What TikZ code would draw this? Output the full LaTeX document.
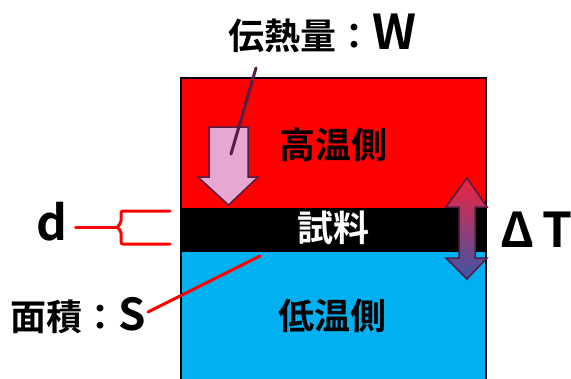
\documentclass[tikz,border=0pt]{standalone}
\usepackage{fontspec}
\setmainfont{Noto Sans CJK JP}[BoldFont={Noto Sans CJK JP Bold}]
\usetikzlibrary{calc}
\definecolor{hotred}{HTML}{FF0000}
\definecolor{coldblue}{HTML}{00B0F0}
\definecolor{arrowpink}{HTML}{E6A8D0}
\definecolor{darkplum}{HTML}{551C44}
\definecolor{gradtop}{HTML}{F0243E}
\definecolor{gradbot}{HTML}{3A56A8}
\tikzset{
  jplabel/.style={font=\bfseries\fontsize{36}{36}\selectfont, inner sep=0pt},
  latinbig/.style={font=\bfseries\fontsize{48}{48}\selectfont, inner sep=0pt},
  redline/.style={draw=red, line width=3pt, line cap=round, line join=round},
  plumline/.style={draw=darkplum, line width=3pt, line cap=round},
}
\begin{document}
\begin{tikzpicture}[x=1pt,y=-1pt]
\useasboundingbox (0,0) rectangle (571,378);
% layers
\fill[hotred] (181,78) rectangle (486,208);
\fill[black] (181,208) rectangle (486,252);
\fill[coldblue] (181,252) rectangle (486,380);
\draw[black, line width=1.5pt] (181,380) -- (181,78) -- (486,78) -- (486,380);
% region texts
\node[jplabel] (hot) at (333,145) {高温側};
\node[jplabel, text=white] (sample) at (333,228) {試料};
\node[jplabel] (cold) at (332,316) {低温側};
% heat flow arrow
\draw[darkplum, fill=arrowpink, line width=1.5pt, line join=miter]
  (209,127) -- (248,127) -- (248,177) -- (258,177) -- (228.5,205) -- (198,177) -- (209,177) -- cycle;
% heat label
\node[jplabel, anchor=base west] (heat) at (228,49) {伝熱量：\fontsize{48}{48}\selectfont W};
\coordinate (heatend) at (231,154);
\draw[plumline] (256,68) -- (heatend);
% delta T double arrow
\shade[top color=gradtop, bottom color=gradbot, draw=darkplum, line width=1.5pt, line join=miter]
  (467,178) -- (487,207) -- (475,207) -- (475,258) -- (487,258) -- (467,279)
  -- (446,258) -- (459,258) -- (459,207) -- (446,207) -- cycle;
\node[latinbig, anchor=base west] (dT) at (500,247) {Δ\hspace{8pt}T};
% thickness d
\node[latinbig] (d) at (52,222) {d};
\draw[redline] (d.east) ++(8,5) -- (117,227);
\draw[redline, rounded corners=2pt] (170,211) -- (121,211) -- (121,223) -- (117,227) -- (121,231) -- (121,244) -- (170,244);
% area S
\node[jplabel, anchor=base west] (area) at (10,330) {面積：\fontsize{44}{44}\selectfont S};
\coordinate (areaend) at (260,256);
\draw[redline] (148,312) -- (areaend);
\end{tikzpicture}
\end{document}
